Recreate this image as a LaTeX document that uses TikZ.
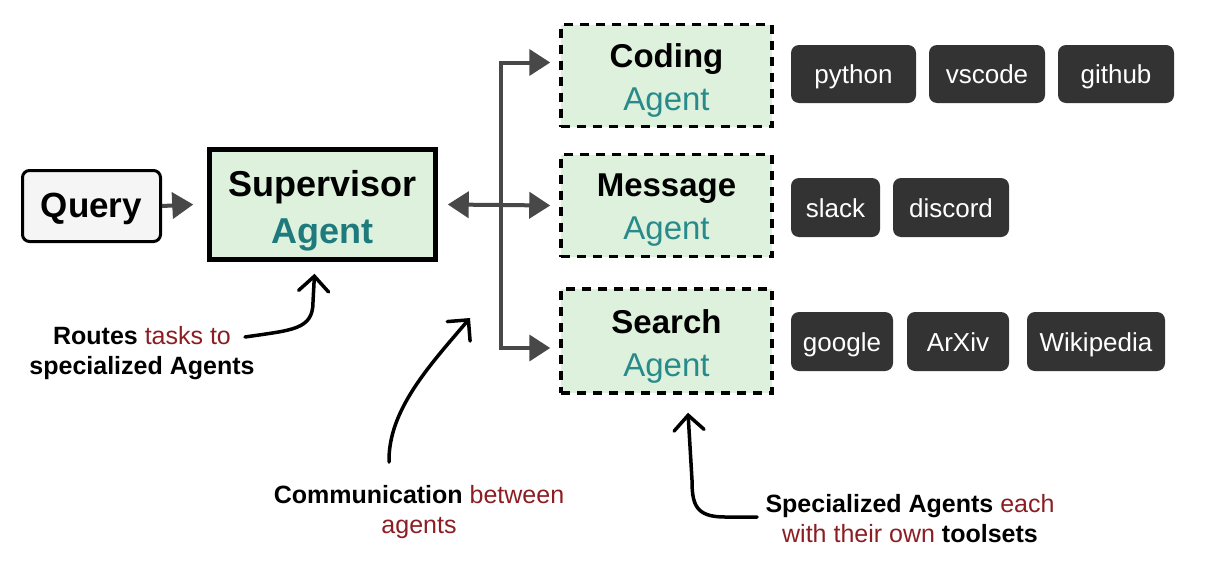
\documentclass[tikz,border=0pt]{standalone}
\usepackage{fontspec}
\setmainfont{Liberation Sans}
\usetikzlibrary{arrows.meta,calc}
\definecolor{agreen}{RGB}{221,241,221}
\definecolor{qgray}{RGB}{245,245,245}
\definecolor{tealc}{RGB}{30,122,124}
\definecolor{tealr}{RGB}{40,138,138}
\definecolor{redc}{RGB}{140,30,35}
\definecolor{tooldark}{RGB}{51,51,51}
\definecolor{arrowgray}{RGB}{72,72,72}
\begin{document}
\begin{tikzpicture}[x=1pt,y=-1pt,
  querybox/.style={draw=black, line width=3pt, rounded corners=7pt, fill=qgray,
    minimum width=138pt, minimum height=71pt, inner sep=0pt,
    font=\fontsize{35}{40}\selectfont\bfseries, text height=26pt, text depth=4pt},
  suptext/.style={align=center, inner sep=0pt, yshift=-6pt,
    font=\fontsize{36}{47}\selectfont},
  supbox/.style={draw=black, line width=4.5pt, fill=agreen, minimum width=226pt,
    minimum height=110pt, inner sep=0pt},
  agenttext/.style={align=center, inner sep=0pt, yshift=-5pt,
    font=\fontsize{33}{43}\selectfont},
  agentbox/.style={draw=black, line width=3.5pt, dash pattern=on 9pt off 7pt,
    fill=agreen, minimum width=211pt, minimum height=102pt, inner sep=0pt},
  toolbox/.style={fill=tooldark, rounded corners=8pt, text=white, inner sep=0pt,
    font=\fontsize{26}{30}\selectfont, text height=22pt, text depth=2.5pt,
    minimum height=58pt},
  anno/.style={align=center, inner sep=0pt, font=\fontsize{25}{30}\selectfont},
  gline/.style={draw=arrowgray, line width=4pt},
  garrow/.style={gline, -{Triangle[length=21pt,width=26pt]}},
  gdarrow/.style={gline, {Triangle[length=21pt,width=26pt]}-{Triangle[length=21pt,width=26pt]}},
  barb/.style={draw=black, line width=3.5pt, line cap=round, line join=round,
    -{Straight Barb[length=15pt,width=30pt,line cap=round]}}
]
\useasboundingbox[fill=white] (0,0) rectangle (1222,570);

% main nodes
\node[querybox] (query) at (91.5,206) {Query};
\node[supbox, label={[suptext]center:\textbf{Supervisor}\\\textcolor{tealc}{\textbf{Agent}}}] (sup) at (322.5,204.5) {};

\node[agentbox, label={[agenttext]center:\textbf{Coding}\\\textcolor{tealr}{Agent}}] (coding) at (666.5,75.5) {};
\node[agentbox, label={[agenttext]center:\textbf{Message}\\\textcolor{tealr}{Agent}}] (message) at (666.5,205.5) {};
\node[agentbox, minimum height=104pt, label={[agenttext]center:\textbf{Search}\\\textcolor{tealr}{Agent}}] (search) at (666.5,341) {};

% tools
\node[toolbox, minimum width=125pt] (python) at (853.5,74) {python};
\node[toolbox, minimum width=116pt] (vscode) at (987,74) {vscode};
\node[toolbox, minimum width=116pt] (github) at (1116,74) {github};
\node[toolbox, minimum width=89pt, minimum height=59pt] (slack) at (835.5,207.5) {slack};
\node[toolbox, minimum width=116pt, minimum height=59pt] (discord) at (951,207.5) {discord};
\node[toolbox, minimum width=102pt, minimum height=59pt] (google) at (842,341.5) {google};
\node[toolbox, minimum width=102pt, minimum height=59pt] (arxiv) at (958,341.5) {ArXiv};
\node[toolbox, minimum width=138pt, minimum height=59pt] (wiki) at (1096,341.5) {Wikipedia};

% connectors
\draw[garrow] (query.east) -- ([xshift=-14pt]sup.west);
\coordinate (bus) at (501,205);
\coordinate (cA) at ([xshift=-9pt,yshift=13pt]coding.west);
\coordinate (mA) at ([xshift=-9pt]message.west);
\coordinate (sA) at ([xshift=-9pt,yshift=-7pt]search.west);
\draw[gdarrow] (cA) -- (cA -| bus) -- (sA -| bus) -- (sA);
\draw[gdarrow] ([xshift=10pt]sup.east) -- (mA);

% annotations
\node[anno] (routes) at (142,353) {\textbf{Routes} \textcolor{redc}{tasks to}\\\textbf{specialized Agents}};
\node[anno] (comm) at (419,512) {\textbf{Communication} \textcolor{redc}{between}\\\textcolor{redc}{agents}};
\node[anno] (spec) at (910,519) {\textbf{Specialized Agents} \textcolor{redc}{each}\\\textcolor{redc}{with their own} \textbf{toolsets}};

\coordinate (routesStart) at (245,337);
\coordinate (routesTip) at ([xshift=-8pt,yshift=-12pt]sup.south);
\draw[barb] (routesStart) .. controls (292,330) and (313,330) .. (313,302) -- (routesTip);

\coordinate (commStart) at (389,462);
\coordinate (commTip) at (470,318);
\draw[barb] (commStart) .. controls (388,410) and (430,365) .. (commTip);

\coordinate (specStart) at (757,517);
\coordinate (specTip) at ([xshift=21.5pt,yshift=-18pt]search.south);
\draw[barb] (specStart) -- (725,517) .. controls (696,517) and (692,505) .. (692,480) -- (specTip);
\end{tikzpicture}
\end{document}
